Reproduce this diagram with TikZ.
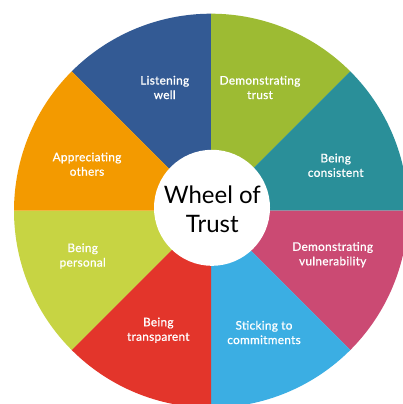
\documentclass[tikz,border=0pt]{standalone}
\usepackage{fontspec}
\setmainfont{Lato}
\newfontfamily\labelfont{Lato}[FakeBold=0.9,LetterSpace=2.5]
\begin{document}
\begin{tikzpicture}[x=1pt,y=1pt,
  seglabel/.style={text=white,align=center,font=\labelfont\fontsize{11.8}{14.5}\selectfont,inner sep=0pt},
  centertext/.style={text=black,align=center,font=\fontsize{24}{29}\selectfont,inner sep=0pt}]
\definecolor{cListen}{HTML}{335A94}
\definecolor{cDemTrust}{HTML}{9DBB33}
\definecolor{cConsist}{HTML}{2A8F99}
\definecolor{cVulner}{HTML}{CB4A73}
\definecolor{cCommit}{HTML}{3BAEE3}
\definecolor{cTransp}{HTML}{E3352B}
\definecolor{cPersonal}{HTML}{C7D443}
\definecolor{cApprec}{HTML}{F39A00}
\useasboundingbox (0,0) rectangle (403,404);
\fill[white] (0,0) rectangle (403,404);
\clip (0,0) rectangle (403,404);
\coordinate (c) at (211,193.3);
\def\R{197}
% eight 45-degree sectors
\foreach \a/\col in {90/cListen,45/cDemTrust,0/cConsist,-45/cVulner,-90/cCommit,-135/cTransp,180/cPersonal,135/cApprec}{
  \fill[\col] (c) -- ++(\a:\R) arc[start angle=\a,delta angle=45,radius=\R] -- cycle;
}
% hub
\fill[white] (212,196.2) circle[radius=58];
\node[centertext] (hub) at (212.3,194.5) {Wheel of\\Trust};
% sector labels
\node[seglabel] (listen)   at (164.7,316.5) {Listening\\well};
\node[seglabel] (demtrust) at (260,316.5)   {Demonstrating\\trust};
\node[seglabel] (consist)  at (335.7,238.7) {Being\\consistent};
\node[seglabel] (vulner)   at (332.7,149.3) {Demonstrating\\vulnerability};
\node[seglabel] (commit)   at (264,71.5)    {Sticking to\\commitments};
\node[seglabel] (transp)   at (158.3,73.8)  {Being\\transparent};
\node[seglabel] (personal) at (82.7,148)    {Being\\personal};
\node[seglabel] (apprec)   at (87,239.8)    {Appreciating\\others};
\end{tikzpicture}
\end{document}
